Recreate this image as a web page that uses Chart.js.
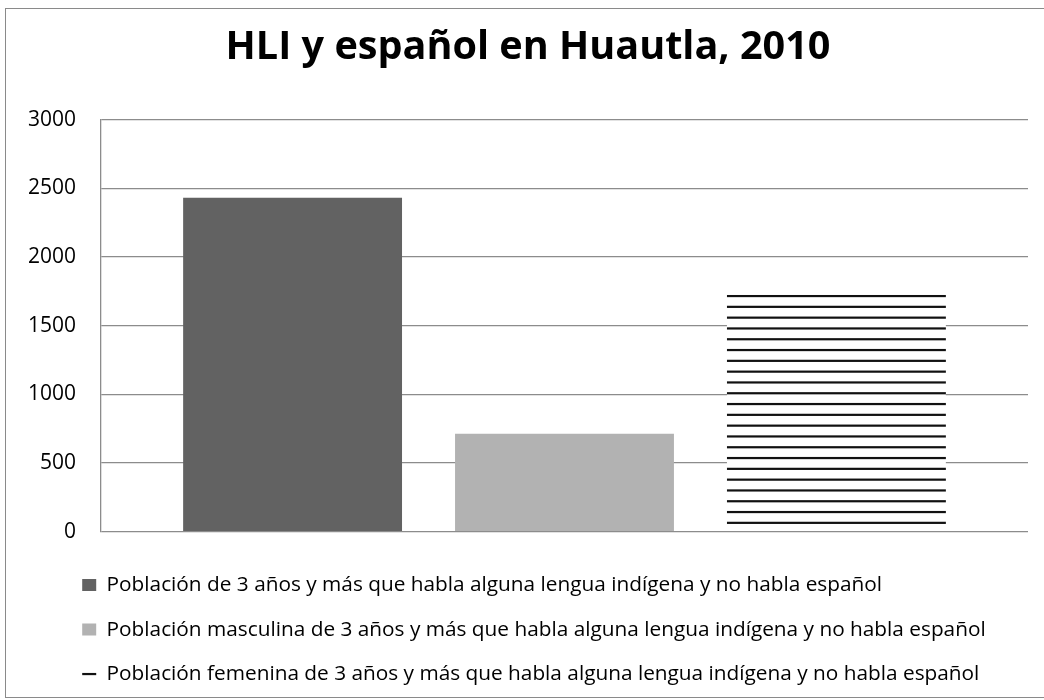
<!DOCTYPE html>
<html>
<head>
<meta charset="utf-8">
<title>HLI y español en Huautla, 2010</title>
<script src="https://cdn.jsdelivr.net/npm/chart.js@4/dist/chart.umd.min.js"></script>
<style>
    html, body { margin: 0; padding: 0; background: #ffffff; }
    #frame {
        position: absolute; left: 5px; top: 8px;
        width: 1045px; height: 690px;
        border: 1px solid #8a8a8a;
        box-sizing: border-box;
    }
    #wrap { position: absolute; left: 0; top: 0; width: 1044px; height: 700px; }
</style>
</head>
<body>
<div id="frame"></div>
<div id="wrap"><canvas id="barChart"></canvas></div>
<script>
// Chart data
const categories = [""];
const seriesNames = [
    "Población de 3 años y más que habla alguna lengua indígena y no habla español",
    "Población masculina de 3 años y más que habla alguna lengua indígena y no habla español",
    "Población femenina de 3 años y más que habla alguna lengua indígena y no habla español"
];
const totalValues = [2430];
const maleValues = [713];
const femaleValues = [1725];
const yTicks = [0, 500, 1000, 1500, 2000, 2500, 3000];

// horizontal stripe fill for the third bar (period ~10.8px)
function stripePattern() {
    const c = document.createElement("canvas");
    c.width = 8;
    c.height = 54;
    const g = c.getContext("2d");
    g.fillStyle = "#ffffff";
    g.fillRect(0, 0, 8, 54);
    g.fillStyle = "#111111";
    for (let k = 0; k < 5; k++) {
        g.fillRect(0, k * 10.8 + 3.35, 8, 2.2);
    }
    return g.createPattern(c, "repeat");
}

// Excel puts the legend a bit further right than Chart.js does
const legendShift = {
    id: "legendShift",
    afterLayout(chart) {
        if (chart.legend) {
            chart.legend.left += 30.5;
            chart.legend.right += 30.5;
        }
    }
};

const gridGray = "#8c8c8c";

window.addEventListener("DOMContentLoaded", () => {
    const el = document.getElementById("barChart");
    new Chart(el, {
        type: "bar",
        data: {
            labels: categories,
            datasets: [
                { label: seriesNames[0], data: totalValues, backgroundColor: "#626262", borderWidth: 0 },
                { label: seriesNames[1], data: maleValues, backgroundColor: "#b2b2b2", borderWidth: 0 },
                { label: seriesNames[2], data: femaleValues, backgroundColor: stripePattern(), borderWidth: 0 }
            ]
        },
        options: {
            responsive: true,
            maintainAspectRatio: false,
            animation: false,
            categoryPercentage: 0.88,
            barPercentage: 0.805,
            layout: { padding: { left: 28, right: 16, top: 0, bottom: 5.5 } },
            plugins: {
                title: {
                    display: true,
                    text: "HLI y español en Huautla, 2010",
                    color: "#000000",
                    font: { family: "'Open Sans', sans-serif", size: 39.6, weight: "bold" },
                    padding: { top: 24, bottom: 48 }
                },
                legend: {
                    position: "bottom",
                    align: "start",
                    labels: {
                        color: "#000000",
                        font: { family: "'Open Sans', sans-serif", size: 20.8 },
                        boxWidth: 14,
                        boxHeight: 12,
                        padding: 23.7
                    }
                },
                tooltip: { enabled: false }
            },
            scales: {
                x: {
                    grid: { display: false, drawTicks: false },
                    border: { display: false },
                    ticks: { font: { size: 12 }, padding: 2.5 }
                },
                y: {
                    min: 0,
                    max: 3000,
                    afterBuildTicks: (scale) => {
                        scale.ticks = yTicks.map(v => ({ value: v }));
                    },
                    afterFit: (scale) => { scale.width = 73; },
                    grid: { color: gridGray, lineWidth: 1.3, drawTicks: false },
                    border: { color: gridGray, width: 1.3 },
                    ticks: {
                        color: "#000000",
                        font: { family: "'Open Sans', sans-serif", size: 21 },
                        padding: 25,
                        callback: (v) => String(v)
                    }
                }
            }
        },
        plugins: [legendShift]
    });
});
</script>
</body>
</html>
